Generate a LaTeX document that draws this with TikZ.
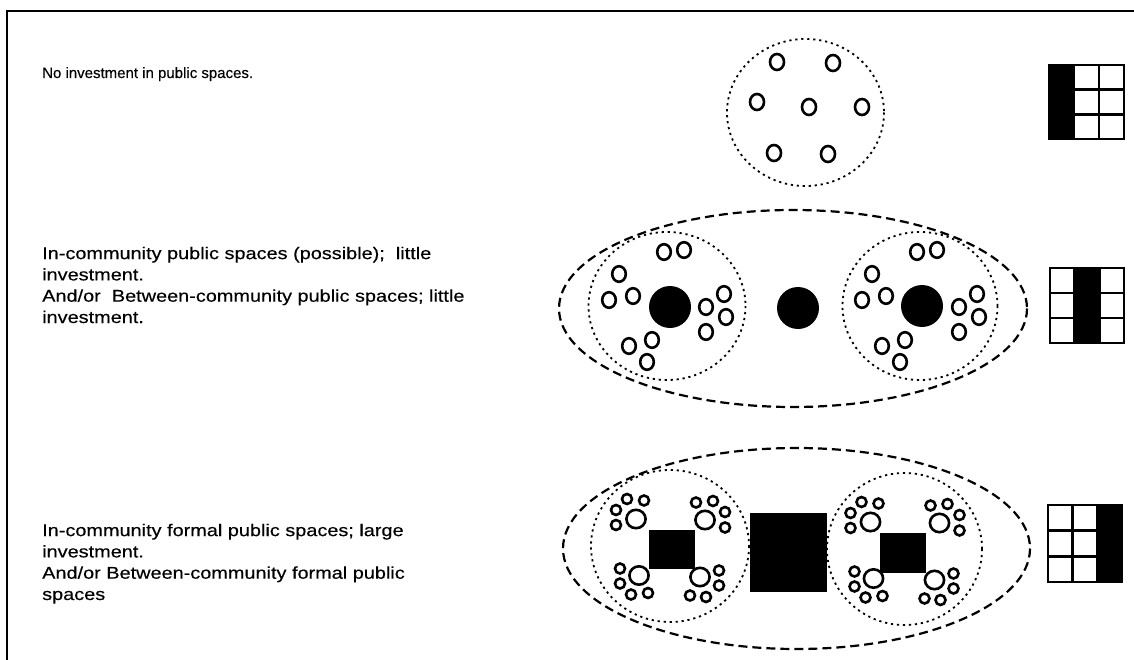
\documentclass[tikz,border=0pt]{standalone}
\usepackage{fontspec}
\setmainfont[FakeBold=0.3]{Liberation Sans}
\newfontfamily\widefont[FakeStretch=1.17,FakeBold=0.3]{Liberation Sans}
% three ways a settlement can invest in public space
\newcommand\tally[5]{% corner x, corner y, width, height, filled column
  \begin{scope}[shift={(#1,#2)}]
    \fill ({#5*#3/3},0) rectangle ({(#5+1)*#3/3},#4);
    \draw[gridline] (0,0) rectangle (#3,#4);
    \foreach \k in {1,2} {
      \draw[gridline] ({\k*#3/3},0) -- ({\k*#3/3},#4);
      \draw[gridline] (0,{\k*#4/3}) -- (#3,{\k*#4/3});
    }
  \end{scope}}
\newcommand\hamlet[2]{% ring of homes around a small plaza
  \begin{scope}[shift={(#1,#2)}]
    \foreach \dx/\dy in {-3/-54,17/-56,-48/-32,-58/-6,-34/-10,57/-12,39/1,59/11,39/26,-38/40,-15/34,-20/56}
      \draw[home] (\dx,\dy) ellipse [x radius=6.8, y radius=7.8];
  \end{scope}}
\newcommand\quarter[2]{% four groups of homes at the corners of a formal square
  \begin{scope}[shift={(#1,#2)}]
    \foreach \dx/\dy in {-34/-27,35/-26,-31/29.5,30/31}
      \draw[home] (\dx,\dy) ellipse [x radius=9.6, y radius=9.2];
    \foreach \dx/\dy in {-43/-47,-26/-45.5,-54/-36,-54/-21,
                         26/-43.5,43/-45,55/-34,55/-18.5,
                         -50/22.5,-50/37.5,-39/48.5,-22/47,
                         49/24.5,49/39.5,20/49.5,36/51}
      \draw[home] (\dx,\dy) circle [radius=5];
  \end{scope}}
\begin{document}
\begin{tikzpicture}[x=1pt,y=-1pt,
  frame/.style={line width=2.4pt},
  % multi-line captions are placed by the baseline of their last line
  caption/.style={anchor=base west,inner sep=0pt,align=left,
    font=\fontsize{15}{21}\selectfont},
  widecaption/.style={caption,font=\widefont\fontsize{17}{21.3}\selectfont},
  area/.style={line width=1.8pt,dash pattern=on 2.2pt off 3.8pt},
  region/.style={line width=2.2pt,dash pattern=on 9pt off 5pt},
  home/.style={line width=2.6pt,fill=white},
  gridline/.style={line width=2.6pt}
]
\useasboundingbox (0,0) rectangle (1134,660);
\draw[frame] (7,660) -- (7,11) -- (1134,11);

% captions
\node[caption] (none) at (42,78) {No investment in public spaces.};
\node[widecaption] (little) at (42,323)
  {In-community public spaces (possible);\ \ little\\investment.\\And/or\ \ Between-community public spaces; little\\investment.};
\node[widecaption] (large) at (42,600)
  {In-community formal public spaces; large\\investment.\\And/or Between-community formal public\\spaces};

% no investment: scattered homes
\draw[area] (805.5,112.5) ellipse [x radius=78.5, y radius=73.5];
\foreach \px/\py in {777/62,833/63,757/102,809/107,862/107,774/153,828/154}
  \draw[home] (\px,\py) ellipse [x radius=7, y radius=8];
\tally{1049}{65}{75}{74}{0}

% little investment
\draw[region] (793,308.5) ellipse [x radius=234, y radius=98.5];
\draw[area] (667,306) ellipse [x radius=78.5, y radius=74];
\draw[area] (920,306) ellipse [x radius=77.5, y radius=74];
\fill (670,307) circle [radius=21];
\fill (798,308) circle [radius=21];
\fill (922,306) circle [radius=21];
\hamlet{667}{306}
\hamlet{920}{306}
\tally{1050}{268}{74}{75}{1}

% large investment
\draw[region] (796.5,548.5) ellipse [x radius=233.5, y radius=100.5];
\draw[area] (670,546) ellipse [x radius=79, y radius=76];
\draw[area] (904.5,549) ellipse [x radius=77.5, y radius=76];
\fill (750,513) rectangle (827,592);
\fill (649,530) rectangle (695,569);
\fill (880,533) rectangle (926,573);
\quarter{670}{546}
\quarter{904.5}{549}
\tally{1048}{505}{74}{77}{2}
\end{tikzpicture}
\end{document}
